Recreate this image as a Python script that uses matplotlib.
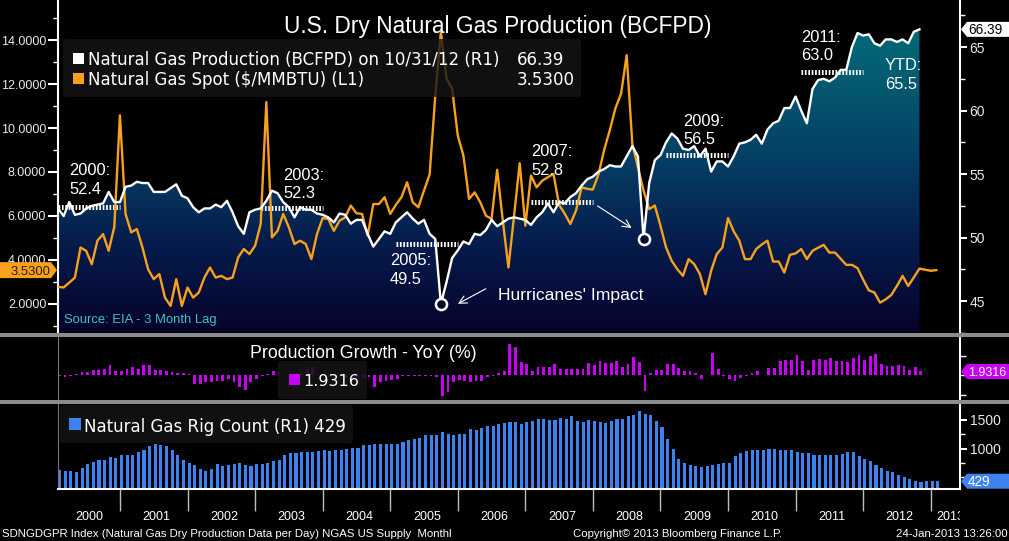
import numpy as np
import matplotlib
matplotlib.use("Agg")
import matplotlib.pyplot as plt
from matplotlib import font_manager
from matplotlib.colors import LinearSegmentedColormap
from matplotlib.patches import FancyBboxPatch, Polygon, Rectangle
from matplotlib.transforms import Affine2D, offset_copy

W, H = 1009, 541

# monthly series, index 1 = Jan 2000
production = [  # BCFPD, Jan 2000 - Oct 2012 (R1)
    52.3, 51.7, 52.8, 51.8, 51.9, 52.3, 52.5, 52.6, 52.7, 53.6, 52.8, 52.8,
    54.0, 54.1, 54.4, 54.3, 54.3, 53.6, 53.6, 53.6, 53.9, 54.2, 53.3, 53.1,
    52.4, 52.0, 52.3, 52.3, 52.6, 52.4, 52.9, 52.0, 50.9, 50.3, 52.0, 52.2,
    52.3, 52.9, 53.7, 53.5, 52.8, 52.4, 51.6, 52.4, 52.2, 52.2, 51.9, 51.8,
    51.6, 51.2, 51.9, 51.8, 51.1, 51.4, 51.4, 50.3, 49.3, 49.9, 50.5, 50.3,
    51.2, 51.6, 52.0, 51.5, 51.1, 51.4, 50.3, 49.9, 44.8, 46.5, 48.4, 49.0,
    49.7, 49.5, 50.3, 50.2, 50.6, 51.4, 50.9, 51.2, 51.5, 51.6, 51.5, 51.4,
    51.0, 51.6, 52.0, 52.7, 52.0, 52.8, 52.7, 53.2, 53.5, 54.1, 54.6, 54.8,
    55.2, 55.4, 55.7, 55.6, 55.6, 56.4, 57.2, 56.4, 49.9, 54.3, 56.1, 56.5,
    57.5, 58.2, 57.8, 57.0, 56.9, 57.2, 56.4, 57.0, 55.2, 56.0, 56.0, 55.6,
    56.4, 57.4, 57.5, 57.7, 58.1, 57.4, 58.5, 59.0, 59.2, 60.2, 60.2, 61.1,
    60.0, 59.0, 61.7, 62.4, 62.5, 62.3, 62.6, 63.2, 63.2, 65.0, 66.1, 65.9,
    66.0, 65.3, 65.1, 65.6, 65.6, 65.4, 65.6, 65.3, 66.2, 66.39,
]
spot = [  # $/MMBTU, Jan 2000 - Jan 2013 (L1)
    2.77, 2.74, 2.96, 3.19, 4.56, 4.41, 3.80, 4.87, 5.17, 4.41, 5.50, 10.58,
    6.09, 5.25, 5.40, 4.56, 3.57, 3.12, 3.35, 2.28, 1.90, 3.12, 1.90, 2.74,
    2.28, 2.51, 3.19, 3.65, 3.19, 3.27, 3.12, 3.19, 4.11, 4.49, 4.26, 4.64,
    5.63, 11.18, 5.02, 5.32, 6.09, 5.48, 4.72, 4.87, 4.72, 4.03, 5.17, 5.90,
    5.86, 5.32, 5.78, 5.93, 6.47, 6.12, 6.09, 5.10, 6.54, 6.54, 6.85, 6.09,
    6.50, 6.85, 7.53, 6.62, 6.39, 7.15, 7.88, 11.45, 14.38, 12.25, 11.79, 9.66,
    8.75, 6.77, 7.07, 6.62, 6.01, 5.86, 8.10, 5.78, 3.65, 6.00, 8.40, 5.55,
    7.84, 7.30, 7.60, 7.76, 7.91, 6.50, 6.10, 5.63, 6.24, 7.30, 7.23, 7.20,
    7.90, 9.00, 9.90, 10.90, 11.56, 13.32, 9.28, 8.22, 7.15, 6.31, 6.47, 5.55,
    4.56, 3.95, 3.57, 3.27, 4.03, 3.80, 3.35, 2.43, 3.50, 4.26, 4.56, 5.90,
    5.30, 4.87, 4.03, 4.03, 4.49, 4.70, 4.87, 3.92, 3.92, 3.42, 4.23, 4.29,
    4.49, 4.03, 4.41, 4.55, 4.68, 4.33, 4.33, 4.05, 3.77, 3.77, 3.62, 3.10,
    2.61, 2.51, 2.05, 2.20, 2.40, 2.81, 3.27, 2.81, 3.20, 3.60, 3.55, 3.50,
    3.53,
]
growth = [  # production growth YoY %, Jan 2000 - Oct 2012
    -0.5, -1.0, -0.2, 0.5, 1.7, 1.7, 2.6, 2.9, 3.4, 5.1, 2.1, 2.1,
    3.4, 4.3, 3.4, 5.1, 5.1, 2.6, 2.6, 2.1, 1.7, 1.4, 1.2, 0.5,
    -4.3, -4.3, -3.4, -3.4, -2.9, -2.9, -2.1, -3.4, -6.3, -7.7, -3.4, -1.7,
    -0.2, 0.7, 2.1, 1.4, 0.3, 0.0, -0.5, 1.0, 3.4, 4.5, 0.2, -0.5,
    -1.0, -2.0, -1.0, -1.5, -2.0, -1.5, -1.5, -0.9, -6.0, -3.4, -2.9, -2.6,
    -2.2, -0.5, -0.3, -0.2, -0.3, -0.2, -0.3, -0.9, -10.8, -8.9, -3.4, -2.6,
    -2.9, -3.4, -3.1, -3.1, -0.9, -0.3, 1.2, 2.1, 16.2, 14.4, 7.0, 5.8,
    2.4, 4.4, 4.4, 4.1, 6.0, 3.4, 3.4, 3.4, 3.4, 3.4, 6.5, 5.5,
    7.5, 6.5, 6.5, 7.5, 4.4, 6.0, 9.6, 7.0, -7.9, 0.9, 2.9, 2.9,
    6.0, 6.0, 3.9, 2.4, 2.4, 1.4, -1.9, 0.3, 11.6, 3.4, -0.5, -1.7,
    -3.1, -1.5, -0.5, 1.4, 2.4, 0.3, 3.9, 3.9, 7.5, 8.0, 8.0, 10.6,
    7.5, 2.9, 8.0, 8.5, 8.0, 9.1, 7.5, 7.5, 7.0, 9.1, 10.6, 8.0,
    10.1, 11.1, 6.0, 5.0, 5.0, 5.5, 5.0, 2.9, 4.4, 1.9316,
]
rig_count = [  # natural gas rigs, Jan 2000 - Jan 2013 (R1)
    623, 606, 606, 589, 652, 727, 762, 791, 808, 855, 832, 878,
    878, 878, 941, 982, 1040, 1075, 1057, 1040, 970, 884, 797, 739,
    704, 635, 606, 635, 727, 693, 710, 727, 739, 710, 698, 727,
    727, 739, 779, 808, 895, 930, 930, 941, 941, 941, 959, 970,
    959, 982, 982, 999, 1017, 1017, 1069, 1069, 1086, 1086, 1086, 1075,
    1075, 1109, 1156, 1173, 1190, 1231, 1242, 1231, 1295, 1260, 1231, 1248,
    1260, 1347, 1329, 1364, 1399, 1387, 1433, 1451, 1468, 1468, 1422, 1457,
    1474, 1509, 1509, 1491, 1491, 1526, 1509, 1561, 1474, 1457, 1491, 1474,
    1457, 1439, 1474, 1509, 1509, 1561, 1578, 1648, 1595, 1578, 1474, 1370,
    1161, 988, 814, 745, 710, 693, 675, 693, 710, 727, 745, 745,
    866, 918, 953, 970, 970, 970, 988, 988, 970, 970, 970, 936,
    918, 918, 884, 884, 884, 884, 884, 901, 936, 936, 866, 814,
    779, 710, 658, 606, 589, 536, 502, 467, 432, 410, 425, 426,
    429,
]
year_labels = [str(y) for y in range(2000, 2014)]
avg_years = [2000, 2003, 2005, 2007, 2009, 2011]
avg_values = [52.4, 52.3, 49.5, 52.8, 56.5, 63.0]
ytd_value = 65.5
hurricane_months = [69, 105]  # Sep 2005, Sep 2008

installed = {f.name for f in font_manager.fontManager.ttflist}
ARIAL = "Liberation Sans"
VERD = "DejaVu Sans"
if "Liberation Sans Narrow" in installed:
    NARROW, nscale = "Liberation Sans Narrow", 1.0
else:
    NARROW, nscale = "Liberation Sans", 0.82

ORANGE = "#f7a11c"
MAGENTA = "#c800f5"
BLUE = "#3c82f0"

fig = plt.figure(figsize=(W / 100, H / 100), dpi=100, facecolor="black")
pix = Affine2D().scale(1, -1).translate(0, H)  # pixels from top-left


def frame(left, top, right, bottom):
    return [left / W, 1 - bottom / H, (right - left) / W, (bottom - top) / H]


def label(x, y, s, size, family=ARIAL, color="white", **kw):
    kw.setdefault("va", "baseline")
    return fig.text(x, y, s, transform=pix, fontsize=size, family=family,
                    color=color, zorder=7, **kw)


def panel_box(x0, y0, x1, y1, color="#151515", alpha=0.8):
    fig.add_artist(FancyBboxPatch((x0, y0), x1 - x0, y1 - y0,
                                  boxstyle="round,pad=0,rounding_size=3",
                                  transform=pix, facecolor=color,
                                  edgecolor="none", alpha=alpha, zorder=5))


def swatch(x, y, color, size=11):
    fig.add_artist(Rectangle((x, y), size, size, transform=pix,
                             facecolor=color, edgecolor="none", zorder=6))


def value_tag(axis, value, text, face, ink, side, size):
    y = H - axis.transData.transform((axis.get_xlim()[0], value))[1]
    if side == "left":
        pts = [(0, y - 8), (51, y - 8), (57, y), (51, y + 8), (0, y + 8)]
        tx, ha = 50, "right"
    else:
        pts = [(961, y), (967, y - 7.5), (1009, y - 7.5), (1009, y + 7.5), (967, y + 7.5)]
        tx, ha = 968, "left"
    fig.add_artist(Polygon(pts, closed=True, transform=pix, facecolor=face,
                           edgecolor="none", zorder=6))
    label(tx, y + 4.5, text, size, family=NARROW, color=ink, ha=ha)


XLIM = (1.0, 161.2)
mp = np.arange(1, len(production) + 1)
ms = np.arange(1, len(spot) + 1)
mg = np.arange(1, len(growth) + 1)
mr = np.arange(1, len(rig_count) + 1)

# ---------------- main panel ----------------
ax = fig.add_axes(frame(58, 0, 960, 333))
ax.set_facecolor("black")
PLIM = (42.56, 68.7)
cmap = LinearSegmentedColormap.from_list(
    "gas", ["#05032c", "#061a4a", "#053c63", "#045a70", "#00737e"])
grad = np.linspace(0, 1, 256).reshape(-1, 1)
im = ax.imshow(grad, extent=[mp[0], mp[-1], PLIM[0], PLIM[1]], origin="lower",
               aspect="auto", cmap=cmap, zorder=1)
ax.set_xlim(*XLIM)
ax.set_ylim(*PLIM)
outline = Polygon(np.column_stack([np.r_[mp, mp[-1], mp[0]],
                                   np.r_[production, PLIM[0], PLIM[0]]]),
                  closed=True, facecolor="none", edgecolor="none",
                  transform=ax.transData)
ax.add_patch(outline)
im.set_clip_path(outline)

# yearly averages as thick dotted bars
for yr, val in zip(avg_years, avg_values):
    start = (yr - 2000) * 12 + 1
    ax.plot([start, start + 11], [val, val], color="white", lw=3.6,
            linestyle=(0, (0.34, 0.34)), zorder=3)

axl = ax.twinx()
axl.set_ylim(0.667, 15.83)
axl.plot(ms, spot, color=ORANGE, lw=1.7, zorder=3)
axl.plot(mp, production, color="white", lw=1.7, transform=ax.transData, zorder=4)
hx = [m for m in hurricane_months]
hy = [production[m - 1] for m in hurricane_months]
axl.plot(hx, hy, "o", ms=8, mfc="#050a30", mec="white", mew=1.8,
         transform=ax.transData, zorder=5)

# arrows pointing at the hurricane dips
for (m, v), (tip, tail) in zip(zip(hx, hy), [((17, 0), (45, 15)), ((-12, 11), (-46, 33))]):
    axl.annotate("", xy=(m, v), xycoords=offset_copy(ax.transData, fig=fig, x=tip[0], y=tip[1], units="dots"),
                 xytext=(m, v), textcoords=offset_copy(ax.transData, fig=fig, x=tail[0], y=tail[1], units="dots"),
                 arrowprops=dict(arrowstyle="->", color="white", lw=0.8,
                                 shrinkA=0, shrinkB=0, mutation_scale=14))

ax.yaxis.tick_right()
ax.yaxis.set_label_position("right")
axl.yaxis.tick_left()
axl.yaxis.set_label_position("left")
ax.set_xticks([])
for a in (ax, axl):
    for s in a.spines.values():
        s.set_visible(False)
for s in ("left", "right"):
    axl.spines[s].set_visible(True)
    axl.spines[s].set_color("white")
    axl.spines[s].set_linewidth(1.5)

left_ticks = np.arange(2, 15, 2)
axl.set_yticks(left_ticks)
axl.set_yticklabels([f"{v:.4f}" for v in left_ticks])
axl.set_yticks(np.arange(1, 16, 2), minor=True)
axl.tick_params(axis="y", which="major", length=7, width=1.5, color="white",
                labelcolor="#e8e8e8", labelsize=9, pad=1.5, labelfontfamily=ARIAL)
axl.tick_params(axis="y", which="minor", length=3.5, width=1, color="white")
ax.set_yticks([45, 50, 55, 60, 65])
ax.set_yticks(np.arange(42.5, 68, 5), minor=True)
ax.tick_params(axis="y", which="major", length=5, width=1.5, color="white",
               labelcolor="#e8e8e8", labelsize=10, pad=2, labelfontfamily=ARIAL)
ax.tick_params(axis="y", which="minor", length=3.5, width=1, color="white")

# ---------------- growth panel ----------------
axg = fig.add_axes(frame(58, 336.5, 960, 400), facecolor="black")
axg.bar(mg, growth, width=0.5, align="edge", color=MAGENTA, zorder=2)
axg.set_xlim(*XLIM)
axg.set_ylim(-12.8, 20)
axg.set_xticks([])
axg.yaxis.tick_right()
axg.set_yticks([-10, 0, 10])
axg.set_yticklabels([])
axg.tick_params(axis="y", length=4, width=1, color="white")
for s in ("top", "bottom"):
    axg.spines[s].set_visible(False)
axg.spines["left"].set_color("#777777")
axg.spines["left"].set_linewidth(0.8)
axg.spines["right"].set_color("white")
axg.spines["right"].set_linewidth(1.5)

# ---------------- rig count panel ----------------
axr = fig.add_axes(frame(58, 403.5, 960, 489), facecolor="black")
axr.bar(mr, rig_count, width=0.55, align="edge", color=BLUE, zorder=2)
axr.set_xlim(*XLIM)
axr.set_ylim(293, 1786)
axr.set_xticks([])
axr.yaxis.tick_right()
axr.set_yticks([1000, 1500])
axr.set_yticks([500, 750, 1250], minor=True)
axr.tick_params(axis="y", which="major", length=5, width=1.5, color="white",
                labelcolor="#e8e8e8", labelsize=10, pad=2, labelfontfamily=ARIAL)
axr.tick_params(axis="y", which="minor", length=3.5, width=1, color="white")
axr.spines["top"].set_visible(False)
axr.spines["left"].set_color("#777777")
axr.spines["left"].set_linewidth(0.8)
axr.spines["right"].set_color("white")
axr.spines["right"].set_linewidth(1.5)
axr.spines["bottom"].set_color("white")
axr.spines["bottom"].set_linewidth(1.5)

# ---------------- year band ----------------
axx = fig.add_axes(frame(58, 489, 960, 522))
axx.set_xlim(*XLIM)
axx.set_ylim(0, 1)
axx.axis("off")
axx.vlines(np.arange(12, 157, 12), 0.33, 1, color="#bdbdbd", lw=1)
for k, lab in enumerate(year_labels):
    last = k == len(year_labels) - 1
    axx.text(157 if last else 12 * k + 6.5, 0.05, lab, ha="left" if last else "center",
             va="baseline", color="white", fontsize=11 * nscale, family=NARROW,
             clip_on=True)

# separators between panels
for top in (333, 400):
    fig.add_artist(Rectangle((0, top), W, 3.5, transform=pix, facecolor="#8c8c8c",
                             edgecolor="none", zorder=4))

# ---------------- texts and boxes ----------------
label(497.5, 33, "U.S. Dry Natural Gas Production (BCFPD)", 16.4, ha="center")

panel_box(63, 39, 581, 97)
swatch(73, 53, "white")
swatch(73, 73, ORANGE)
label(88, 65, "Natural Gas Production (BCFPD) on 10/31/12 (R1)", 12.0, family=VERD)
label(88, 85, "Natural Gas Spot ($/MMBTU) (L1)", 12.0, family=VERD)
label(517, 65, f"{production[-1]:.2f}", 12.0, family=VERD)
label(517, 85, f"{spot[-1]:.4f}", 12.0, family=VERD)

ann_pos = {2000: (69, 175), 2003: (283, 179.5), 2005: (390, 265),
           2007: (531, 156), 2009: (683, 125.5), 2011: (801, 41.5)}
for yr, val in zip(avg_years, avg_values):
    x, y = ann_pos[yr]
    label(x, y, f"{yr}:", 11.8)
    label(x, y + 19, f"{val:.1f}", 11.8)
label(885, 70.5, "YTD:", 11.8)
label(885, 89, f"{ytd_value:.1f}", 11.8)

label(498, 300, "Hurricanes' Impact", 12.6)
label(64, 323, "Source: EIA - 3 Month Lag", 9.4, color="#3fc1c0")

label(250, 357.5, "Production Growth - YoY (%)", 12.8)
panel_box(278, 361, 367, 399, alpha=0.85)
swatch(289, 374, MAGENTA)
label(303, 386.5, f"{growth[-1]:.4f}", 11.5, family=VERD)

panel_box(60, 405, 353, 443)
swatch(69, 418, BLUE, 12)
label(84, 431.5, f"Natural Gas Rig Count (R1) {rig_count[-1]}", 12.0, family=VERD)

label(2, 537, "SDNGDGPR Index (Natural Gas Dry Production Data per Day) NGAS US Supply  Monthl",
      10 * nscale, family=NARROW)
label(573, 537, "Copyright\u00a9 2013 Bloomberg Finance L.P.", 10 * nscale, family=NARROW)
label(1008, 537, "24-Jan-2013 13:26:00", 10 * nscale, family=NARROW, ha="right")

value_tag(axl, spot[-1], f"{spot[-1]:.4f}", ORANGE, "#2e1e00", "left", 11.5 * nscale)
value_tag(ax, production[-1], f"{production[-1]:.2f}", "white", "black", "right", 12 * nscale)
value_tag(axg, growth[-1], f"{growth[-1]:.4f}", MAGENTA, "white", "right", 11 * nscale)
value_tag(axr, rig_count[-1], f"{rig_count[-1]}", BLUE, "white", "right", 12 * nscale)

fig.savefig("out.png", dpi=100, facecolor="black")
